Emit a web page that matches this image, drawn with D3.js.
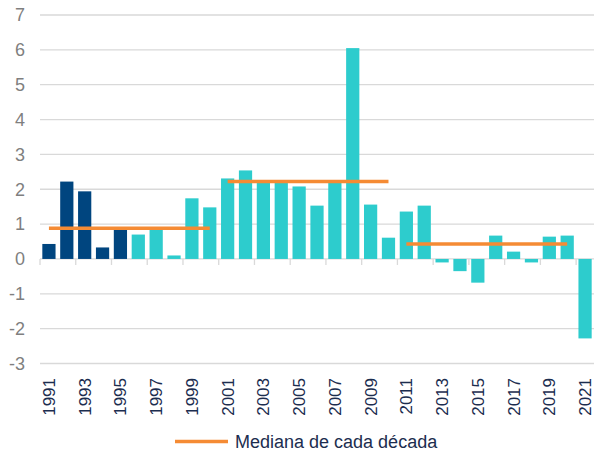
<!DOCTYPE html>
<html lang="es">
  <head>
    <meta charset="UTF-8" />
    <title>Mediana de cada década</title>
    <script src="https://d3js.org/d3.v7.min.js"></script>
    <style>
      body {
        margin: 0;
        background: #fff;
      }
      svg {
        display: block;
        font-family: "Liberation Sans", Arial, sans-serif;
      }
    </style>
  </head>
  <body>
    <script>
      // values
      const years = d3.range(1991, 2022).map(String);
      const values = [
        0.43, 2.22, 1.94, 0.33, 0.85, 0.7, 0.91, 0.1, 1.74, 1.48,
        2.31, 2.54, 2.24, 2.22, 2.08, 1.53, 2.2, 6.05, 1.56, 0.61,
        1.36, 1.53, -0.1, -0.35, -0.68, 0.67, 0.21, -0.1, 0.64, 0.67,
        -2.28
      ];
      const darkYears = ["1991", "1992", "1993", "1994", "1995"];
      const decadeStart = ["1991", "2001", "2011"];
      const decadeEnd = ["2000", "2010", "2020"];
      const decadeMedian = [0.88, 2.22, 0.43];
      const yTicks = [-3, -2, -1, 0, 1, 2, 3, 4, 5, 6, 7];
      const xLabels = years.filter((d, i) => i % 2 === 0);

      const width = 594, height = 454;
      const plotLeft = 40, plotRight = 594, plotTop = 15, plotBottom = 363.5;

      const svg = d3.select("body").append("svg")
        .attr("width", width)
        .attr("height", height);

      const x = d3.scaleBand()
        .domain(years)
        .range([plotLeft, plotRight])
        .paddingInner(0.26)
        .paddingOuter(0.13);

      const y = d3.scaleLinear()
        .domain([-3, 7])
        .range([plotBottom, plotTop]);

      // gridlines
      svg.append("g")
        .selectAll("line")
        .data(yTicks)
        .join("line")
        .attr("x1", plotLeft)
        .attr("x2", plotRight)
        .attr("y1", d => y(d))
        .attr("y2", d => y(d))
        .attr("stroke", "#d9d9d9")
        .attr("stroke-width", 1.3);

      // y labels
      svg.append("g")
        .selectAll("text")
        .data(yTicks)
        .join("text")
        .attr("x", 25)
        .attr("y", d => y(d))
        .attr("dy", "0.35em")
        .attr("text-anchor", "end")
        .attr("fill", "#7f7f7f")
        .style("font-size", "18px")
        .text(d => d);

      // bars
      svg.append("g")
        .selectAll("rect")
        .data(years)
        .join("rect")
        .attr("x", d => x(d))
        .attr("width", x.bandwidth())
        .attr("y", (d, i) => y(Math.max(0, values[i])))
        .attr("height", (d, i) => Math.abs(y(values[i]) - y(0)))
        .attr("fill", d => darkYears.includes(d) ? "#00457f" : "#2dcccd");

      // category tick marks on the zero line
      const gap = (x.step() - x.bandwidth()) / 2;
      svg.append("g")
        .selectAll("line")
        .data(xLabels)
        .join("line")
        .attr("x1", d => x(d) - gap)
        .attr("x2", d => x(d) - gap)
        .attr("y1", y(0))
        .attr("y2", y(0) + 6)
        .attr("stroke", "#d9d9d9")
        .attr("stroke-width", 1.3);

      // decade medians
      svg.append("g")
        .selectAll("line")
        .data(decadeMedian)
        .join("line")
        .attr("x1", (d, i) => x(decadeStart[i]) + x.bandwidth() / 2)
        .attr("x2", (d, i) => x(decadeEnd[i]) + x.bandwidth() / 2)
        .attr("y1", d => y(d))
        .attr("y2", d => y(d))
        .attr("stroke", "#f58b34")
        .attr("stroke-width", 3.5);

      // x labels
      svg.append("g")
        .selectAll("text")
        .data(xLabels)
        .join("text")
        .attr("transform", d => `translate(${x(d) + x.bandwidth() / 2},378) rotate(-90)`)
        .attr("dy", "0.35em")
        .attr("text-anchor", "end")
        .attr("fill", "#1c2d4f")
        .style("font-size", "17px")
        .text(d => d);

      // legend
      const legend = svg.append("g");
      legend.append("line")
        .attr("x1", 175)
        .attr("x2", 228)
        .attr("y1", 441.5)
        .attr("y2", 441.5)
        .attr("stroke", "#f58b34")
        .attr("stroke-width", 3.5);
      legend.append("text")
        .attr("x", 235)
        .attr("y", 441.5)
        .attr("dy", "0.35em")
        .attr("fill", "#1c2d4f")
        .style("font-size", "18px")
        .text("Mediana de cada década");
    </script>
  </body>
</html>
